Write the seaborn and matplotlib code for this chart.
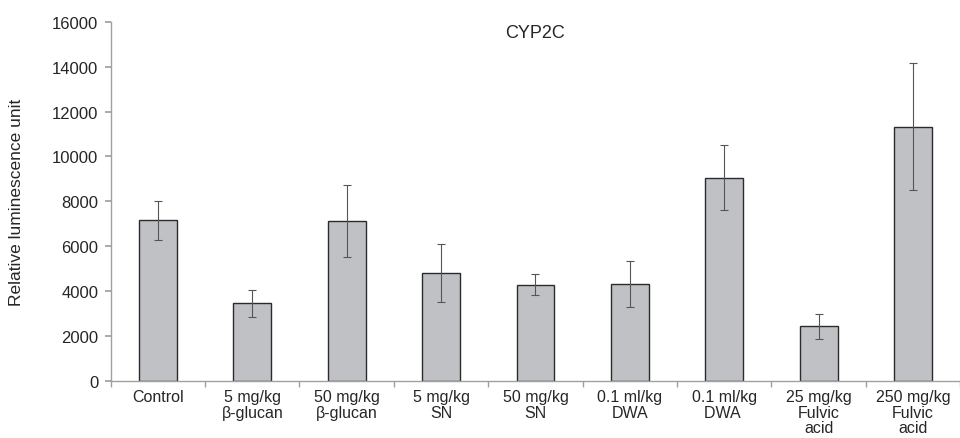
import numpy as np
import pandas as pd
import matplotlib
matplotlib.use("Agg")
import matplotlib.pyplot as plt
import seaborn as sns

groups = ["Control", "5 mg/kg\nβ-glucan", "50 mg/kg\nβ-glucan", "5 mg/kg\nSN", "50 mg/kg\nSN",
          "0.1 ml/kg\nDWA", "0.1 ml/kg\nDWA ", "25 mg/kg\nFulvic\nacid", "250 mg/kg\nFulvic\nacid"]
means = [7150, 3460, 7130, 4810, 4280, 4310, 9050, 2420, 11320]
errors = [870, 600, 1600, 1290, 460, 1030, 1455, 560, 2830]

sns.set_theme(style="white")
plt.rcParams["font.family"] = ["Liberation Sans", "DejaVu Sans"]

df = pd.DataFrame({"group": groups, "value": means})

fig = plt.figure(figsize=(9.6, 4.39), dpi=100)
ax = fig.add_axes([0.1153, 0.1305, 0.885, 0.8175])

sns.barplot(data=df, x="group", y="value", order=groups, color="#c0c1c4",
            width=0.4, edgecolor="#2b2b2b", linewidth=1.0, errorbar=None, ax=ax,
            saturation=1)
ax.errorbar(np.arange(len(groups)), means, yerr=errors, fmt="none",
            ecolor="#555555", elinewidth=0.8, capsize=3, capthick=0.8)

ax.set_xlim(-0.5, len(groups) - 0.5)
ax.set_ylim(0, 16000)
ax.set_yticks(np.arange(0, 16001, 2000))
ax.set_xlabel("")
ax.set_ylabel("Relative luminescence unit", fontsize=12.5, labelpad=20)
ax.text(0.5, 0.971, "CYP2C", transform=ax.transAxes, ha="center", va="center", fontsize=13)

# category boundaries as ticks, labels centered without ticks
ax.set_xticks(np.arange(len(groups)))
ax.set_xticklabels(groups, fontsize=11.5, linespacing=1.05)
ax.set_xticks(np.arange(-0.5, len(groups)), minor=True)
ax.tick_params(axis="x", which="major", length=0, pad=6)
ax.tick_params(axis="x", which="minor", length=4, color="#a0a0a0", direction="out", bottom=True)
ax.tick_params(axis="y", length=4, color="#a0a0a0", direction="out", left=True, labelsize=12, pad=5)

for s in ["top", "right"]:
    ax.spines[s].set_visible(False)
for s in ["left", "bottom"]:
    ax.spines[s].set_color("#a0a0a0")
    ax.spines[s].set_linewidth(1.0)

fig.savefig("out.png", dpi=100)
